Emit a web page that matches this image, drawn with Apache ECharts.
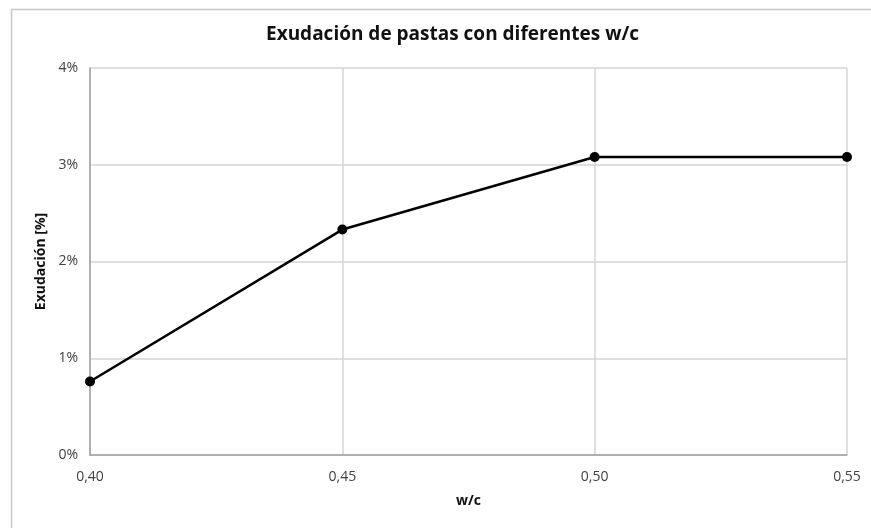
<!DOCTYPE html>
<html>
<head>
<meta charset="utf-8">
<script src="https://cdn.jsdelivr.net/npm/echarts@6/dist/echarts.min.js"></script>
<style>html,body{margin:0;padding:0;background:#fff}#c{width:871px;height:528px}</style>
</head>
<body>
<div id="c"></div>
<script>
const titleText = 'Exudación de pastas con diferentes w/c';
const xName = 'w/c';
const yName = 'Exudación [%]';
const wc = [0.40, 0.45, 0.50, 0.55];
const exudacion = [0.76, 2.33, 3.08, 3.08];

const font = '"Open Sans", "Noto Sans", sans-serif';
const chart = echarts.init(document.getElementById('c'));
chart.setOption({
  animation: false,
  backgroundColor: '#fff',
  graphic: [{
    type: 'rect', left: 9, top: 7, silent: true,
    shape: { x: 0, y: 0, width: 900, height: 600 },
    style: { fill: 'none', stroke: '#c8c8c8', lineWidth: 1.5 }
  }],
  title: {
    text: titleText, left: 261, top: 20,
    textStyle: { fontFamily: font, fontSize: 19, fontWeight: 'bold', color: '#111' }
  },
  grid: { left: 90, right: 24, top: 68, bottom: 73, containLabel: false },
  xAxis: {
    type: 'value', min: 0.40, max: 0.55, interval: 0.05,
    name: xName, nameLocation: 'middle', nameGap: 39,
    nameTextStyle: { fontFamily: font, fontSize: 14, fontWeight: 'bold', color: '#111' },
    axisLine: { show: true, lineStyle: { color: '#a0a0a0', width: 1.5 } },
    axisTick: { show: false },
    splitLine: { show: true, lineStyle: { color: '#d4d4d4', width: 1.5 } },
    axisLabel: {
      margin: 15, fontFamily: font, fontSize: 14, color: '#404040',
      formatter: v => v.toFixed(2).replace('.', ',')
    }
  },
  yAxis: {
    type: 'value', min: 0, max: 4, interval: 1,
    name: yName, nameLocation: 'middle', nameGap: 35,
    nameTextStyle: { fontFamily: font, fontSize: 14, fontWeight: 'bold', color: '#111' },
    axisLine: { show: true, lineStyle: { color: '#a0a0a0', width: 1.5 } },
    axisTick: { show: false },
    splitLine: { show: true, lineStyle: { color: '#d4d4d4', width: 1.5 } },
    axisLabel: { margin: 12, fontFamily: font, fontSize: 14, color: '#404040', formatter: '{value}%' }
  },
  series: [{
    type: 'line',
    data: wc.map((x, i) => [x, exudacion[i]]),
    symbol: 'circle', symbolSize: 10,
    lineStyle: { color: '#000', width: 2.5 },
    itemStyle: { color: '#000' }
  }]
});
</script>
</body>
</html>
